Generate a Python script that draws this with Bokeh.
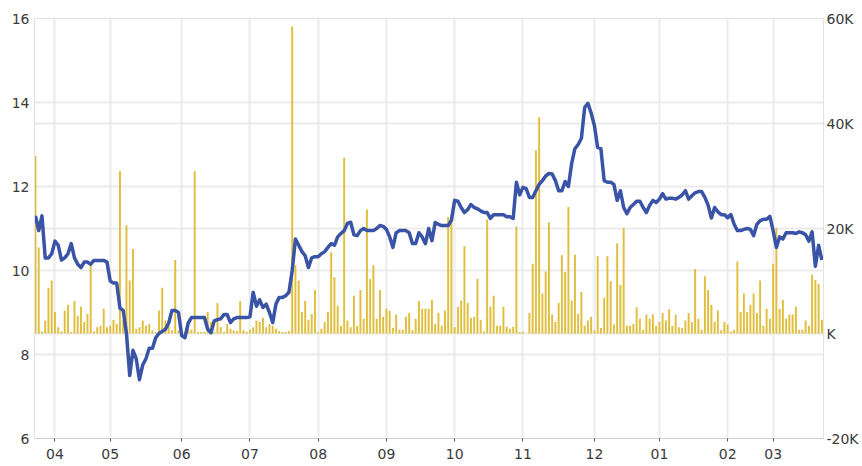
from bokeh.plotting import figure
from bokeh.models import Range1d, LinearAxis, FixedTicker, CustomJSTickFormatter, Grid
from bokeh.embed import file_html
from bokeh.resources import INLINE

# ---- data -------------------------------------------------------------
# price (left axis), one value per trading day
price = [
    11.3, 10.95, 11.3, 10.3, 10.3, 10.4, 10.7, 10.6, 10.25, 10.3,
    10.4, 10.64, 10.3, 10.15, 10.07, 10.2, 10.2, 10.15, 10.24, 10.24,
    10.24, 10.24, 10.2, 9.75, 9.7, 9.7, 9.1, 9.05, 8.5, 7.5,
    8.1, 7.9, 7.4, 7.75, 7.9, 8.15, 8.15, 8.4, 8.5, 8.55,
    8.6, 8.75, 9.05, 9.05, 9.0, 8.45, 8.4, 8.75, 8.88, 8.88,
    8.88, 8.88, 8.88, 8.6, 8.52, 8.8, 8.83, 8.85, 8.95, 8.95,
    8.76, 8.85, 8.88, 8.88, 8.88, 8.88, 8.9, 9.48, 9.15, 9.3,
    9.12, 9.2, 9.0, 8.76, 9.2, 9.36, 9.36, 9.4, 9.48, 10.0,
    10.75, 10.6, 10.45, 10.35, 10.07, 10.3, 10.33, 10.33, 10.4, 10.45,
    10.55, 10.64, 10.6, 10.8, 10.88, 10.95, 11.12, 11.15, 10.85, 10.83,
    10.95, 11.0, 10.95, 10.95, 10.95, 11.0, 11.07, 11.05, 10.98, 10.8,
    10.55, 10.9, 10.95, 10.95, 10.95, 10.9, 10.64, 10.64, 10.9, 10.8,
    10.64, 11.0, 10.71, 11.14, 11.1, 11.07, 11.07, 11.07, 11.2, 11.67,
    11.65, 11.5, 11.38, 11.45, 11.57, 11.5, 11.47, 11.42, 11.38, 11.38,
    11.24, 11.33, 11.33, 11.33, 11.33, 11.28, 11.28, 11.24, 12.1, 11.8,
    11.98, 11.95, 11.74, 11.74, 11.9, 12.05, 12.14, 12.25, 12.31, 12.3,
    12.14, 11.9, 11.9, 12.12, 12.0, 12.55, 12.9, 13.0, 13.15, 13.88,
    13.98, 13.75, 13.45, 12.93, 12.9, 12.14, 12.1, 12.1, 12.05, 11.67,
    11.9, 11.5, 11.35, 11.5, 11.57, 11.65, 11.65, 11.5, 11.38, 11.55,
    11.67, 11.62, 11.7, 11.83, 11.7, 11.72, 11.72, 11.7, 11.74, 11.8,
    11.9, 11.7, 11.78, 11.85, 11.88, 11.88, 11.74, 11.55, 11.25, 11.5,
    11.4, 11.33, 11.33, 11.26, 11.33, 11.1, 10.95, 10.95, 10.98, 11.0,
    10.98, 10.83, 11.1, 11.19, 11.22, 11.22, 11.29, 10.95, 10.55, 10.8,
    10.75, 10.9, 10.9, 10.9, 10.88, 10.92, 10.9, 10.85, 10.7, 10.92,
    10.1, 10.6, 10.25,
]

# volume in thousands (right axis)
volume_k = [
    33.8, 16.4, 0.4, 2.5, 8.7, 10.1, 4.1, 1.2, 0.4, 4.4,
    5.5, 0.3, 6.2, 3.4, 5.1, 2.2, 3.7, 13.0, 0.4, 1.2,
    1.5, 4.7, 1.2, 1.5, 2.6, 1.8, 30.9, 2.5, 20.6, 10.1,
    16.1, 0.9, 1.2, 2.5, 1.5, 1.8, 0.6, 0.3, 4.4, 8.7,
    2.5, 1.5, 0.6, 14.0, 0.6, 0.3, 0.3, 0.9, 0.7, 30.9,
    0.3, 0.3, 0.3, 4.1, 2.2, 0.3, 5.8, 1.2, 0.3, 1.8,
    0.9, 0.6, 0.5, 6.2, 0.6, 0.3, 0.7, 1.2, 2.5, 2.2,
    3.0, 1.2, 1.8, 1.5, 0.9, 0.5, 0.3, 0.3, 0.5, 58.5,
    13.0, 10.1, 4.1, 6.2, 2.6, 3.7, 8.3, 0.3, 0.9, 2.2,
    4.1, 15.5, 10.7, 5.3, 1.5, 33.5, 2.5, 1.2, 7.2, 1.5,
    8.3, 2.8, 23.6, 10.4, 13.0, 2.8, 8.3, 3.2, 4.7, 4.3,
    1.1, 3.6, 0.7, 0.7, 3.2, 3.9, 0.6, 2.8, 6.2, 4.7,
    4.7, 4.7, 6.4, 1.8, 3.9, 1.5, 4.4, 22.2, 22.7, 1.2,
    5.1, 6.3, 16.6, 5.8, 3.0, 3.2, 10.4, 2.6, 0.4, 21.7,
    5.1, 7.2, 1.5, 1.5, 5.1, 1.3, 0.9, 1.3, 20.4, 0.3,
    0.3, 0.0, 3.9, 13.3, 34.9, 41.2, 7.6, 11.8, 21.2, 3.6,
    2.2, 5.8, 14.9, 11.7, 24.1, 6.3, 15.0, 3.7, 7.9, 1.5,
    2.5, 3.2, 0.6, 14.7, 1.1, 6.8, 14.7, 10.0, 1.7, 17.2,
    9.3, 20.1, 1.5, 1.5, 1.8, 5.0, 2.8, 0.7, 3.6, 2.8,
    3.6, 1.5, 2.2, 3.9, 2.5, 4.6, 1.5, 3.6, 1.2, 1.1,
    2.5, 3.9, 2.2, 12.3, 2.8, 0.7, 10.9, 8.3, 5.5, 2.2,
    4.4, 0.6, 2.2, 1.7, 0.4, 0.7, 13.7, 4.1, 7.6, 4.1,
    5.5, 7.6, 3.9, 10.1, 1.5, 4.7, 2.8, 13.3, 20.1, 4.7,
    6.4, 2.8, 3.6, 3.6, 5.1, 0.7, 0.7, 2.5, 1.5, 11.2,
    10.2, 9.5, 2.6,
]

# month ticks (trading-day index) and their labels
month_ticks = [6, 23, 45, 66, 87, 108, 129, 150, 172, 192, 213, 227]
month_labels = ["04", "05", "06", "07", "08", "09", "10", "11", "12", "01", "02", "03"]

left_ticks = [6, 8, 10, 12, 14, 16]
right_ticks = [-20000, 0, 20000, 40000, 60000]

days = list(range(len(price)))
volume = [v * 1000 for v in volume_k]

# ---- style ------------------------------------------------------------
FONT = "DejaVu Sans"
LABEL_SIZE = "14px"
LABEL_COLOR = "#3a3a3a"
GRID_COLOR = "#ebebeb"
BAR_COLOR = "#E0BE3E"
LINE_COLOR = "#3953A6"

p = figure(
    width=862, height=466,
    x_range=Range1d(-0.3, 242.5), y_range=Range1d(6, 16),
    output_backend="svg", toolbar_location=None,
    min_border_left=34, min_border_right=39, min_border_top=18, min_border_bottom=28,
    background_fill_color="white", border_fill_color="white",
)
p.outline_line_color = "#e2e2e2"
p.extra_y_ranges = {"vol": Range1d(-20000, 60000)}

# bars
p.vbar(x=days, top=volume, bottom=0, width=0.6, y_range_name="vol",
       fill_color=BAR_COLOR, line_color=None)
# price line
p.line(days, price, line_color=LINE_COLOR, line_width=3.5, line_join="round")

# x axis
xt = FixedTicker(ticks=month_ticks)
xa = p.xaxis[0]
xa.ticker = xt
xa.major_label_overrides = {t: l for t, l in zip(month_ticks, month_labels)}
xa.major_tick_out = 3
xa.major_tick_in = 0
xa.major_tick_line_color = "#555555"
xa.minor_tick_line_color = None
xa.axis_line_color = "#cfcfcf"
xa.axis_line_width = 1
xa.major_label_standoff = 7
xa.major_label_text_font = FONT
xa.major_label_text_font_size = LABEL_SIZE
xa.major_label_text_color = LABEL_COLOR

# left axis
ya = p.yaxis[0]
ya.ticker = FixedTicker(ticks=left_ticks)
ya.major_tick_out = 0
ya.major_tick_in = 0
ya.minor_tick_line_color = None
ya.axis_line_color = "#e2e2e2"
ya.major_label_standoff = 5
ya.major_label_text_font = FONT
ya.major_label_text_font_size = LABEL_SIZE
ya.major_label_text_color = LABEL_COLOR

# right axis
rt = FixedTicker(ticks=right_ticks)
ra = LinearAxis(y_range_name="vol", ticker=rt,
                formatter=CustomJSTickFormatter(code="var v = tick/1000; return (v == 0 ? '' : v) + 'K';"))
ra.major_tick_out = 0
ra.major_tick_in = 0
ra.minor_tick_line_color = None
ra.axis_line_color = "#e2e2e2"
ra.major_label_standoff = 3
ra.major_label_text_font = FONT
ra.major_label_text_font_size = LABEL_SIZE
ra.major_label_text_color = LABEL_COLOR
p.add_layout(ra, "right")

# grids
p.xgrid.ticker = xt
p.ygrid.ticker = FixedTicker(ticks=left_ticks)
for g in (p.xgrid[0], p.ygrid[0]):
    g.grid_line_color = GRID_COLOR
    g.grid_line_width = 2
rg = Grid(dimension=1, ticker=rt, y_range_name="vol",
          grid_line_color=GRID_COLOR, grid_line_width=2)
p.add_layout(rg)
p.xgrid.level = "underlay"
p.ygrid.level = "underlay"
rg.level = "underlay"

open("out.html", "w").write(file_html(p, INLINE))
